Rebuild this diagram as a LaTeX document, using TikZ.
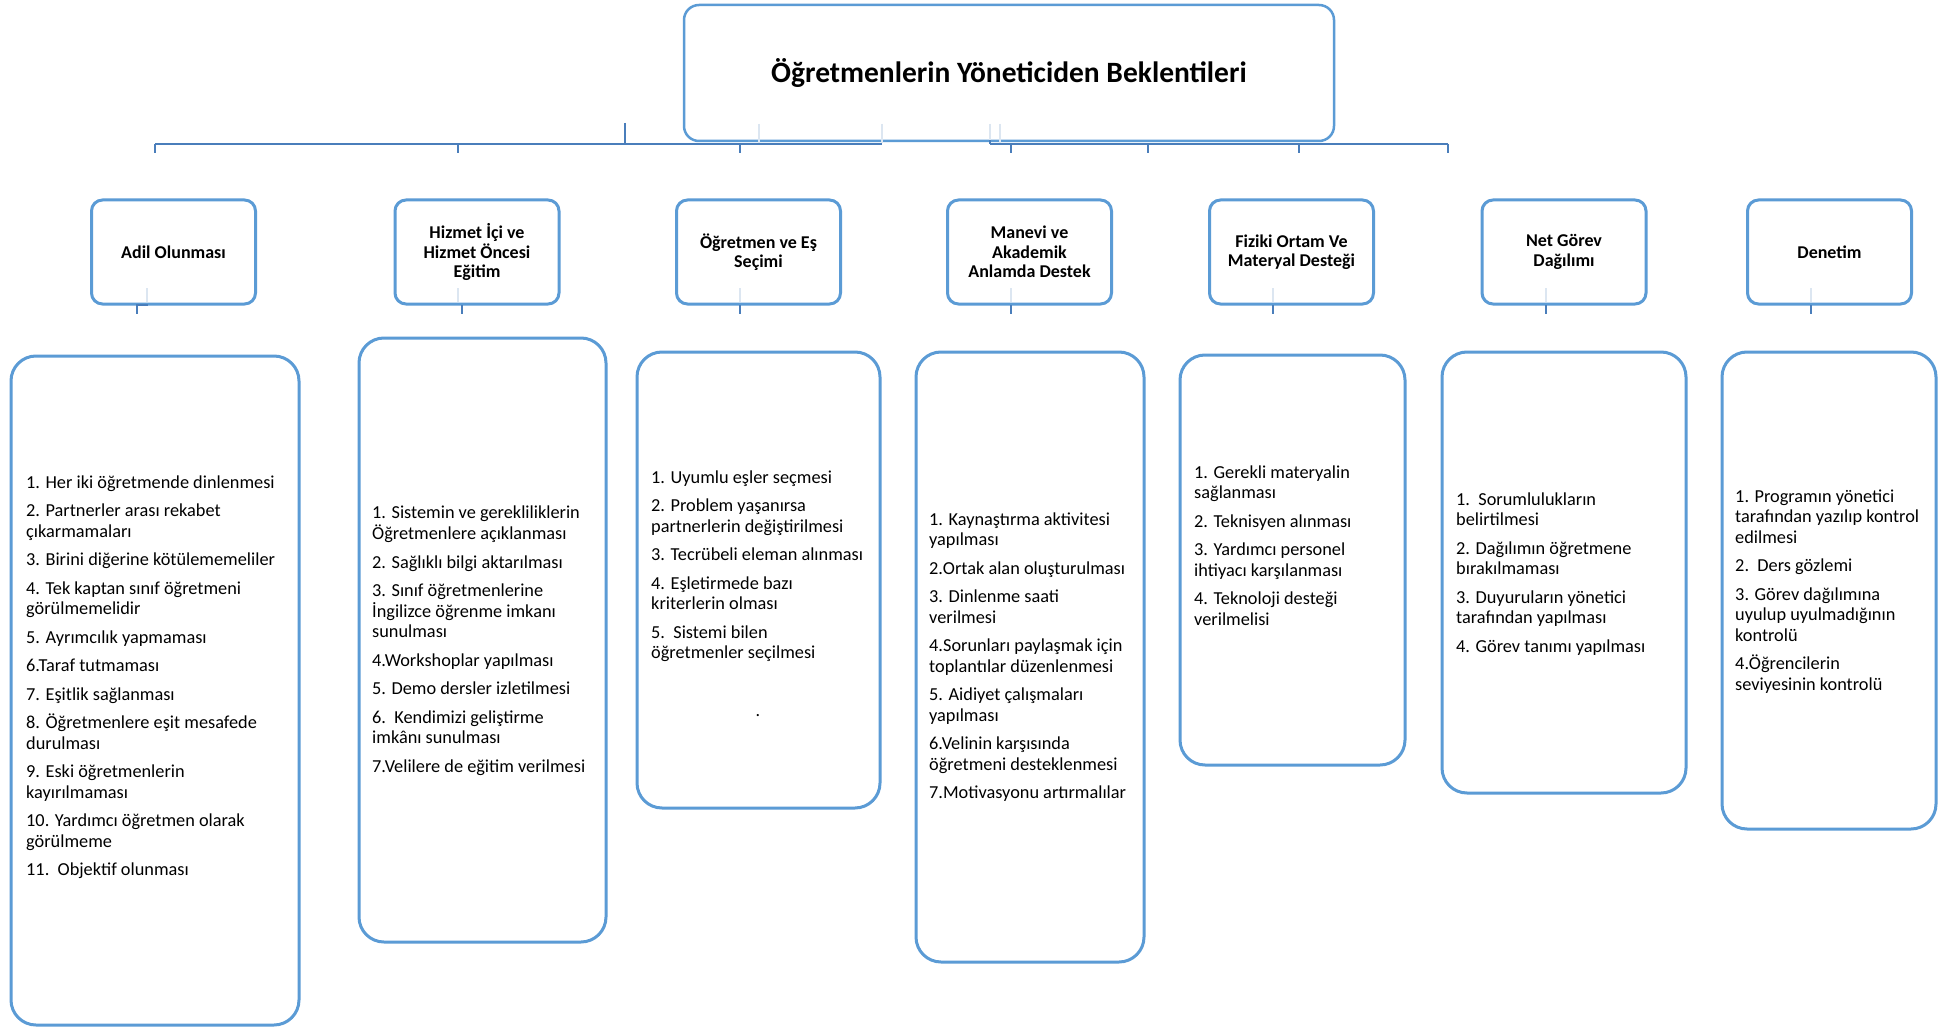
\documentclass[tikz,border=0pt]{standalone}
\usepackage{fontspec}
\setmainfont{Carlito}
\definecolor{boxblue}{HTML}{5B9BD5}
\definecolor{linkblue}{HTML}{4A7EBB}
\definecolor{faintblue}{HTML}{DCE6F1}
\tikzset{
  topbox/.style={draw=boxblue, line width=2.5pt, rounded corners=15pt,
    minimum width=650pt, minimum height=136pt, inner sep=0pt,
    font=\fontsize{29.5}{33}\selectfont\bfseries},
  headbox/.style={draw=boxblue, line width=3pt, rounded corners=11pt,
    minimum width=164pt, minimum height=104pt, inner sep=0pt, align=center,
    font=\fontsize{18}{19.5}\selectfont\bfseries},
  listbox/.style={draw=boxblue, line width=3pt, rounded corners=25pt, inner sep=0pt},
  listtext/.style={anchor=north west, align=left, inner sep=0pt,
    font=\fontsize{18.3}{20.5}\selectfont},
  link/.style={draw=linkblue, line width=2.8pt},
  tick/.style={draw=linkblue, line width=2pt},
  faint/.style={draw=faintblue, line width=2pt},
}
\begin{document}
\begin{tikzpicture}[x=1pt,y=-1pt]
\useasboundingbox (0,0) rectangle (1948,1027);
\fill[white] (0,0) rectangle (1948,1027);

% root
\node[topbox] (root) at (1009,73) {Öğretmenlerin Yöneticiden Beklentileri};

% faint guide lines under the root box
\coordinate (fa1) at (759,124); \coordinate (fa2) at (759,143);
\coordinate (fb1) at (882,124); \coordinate (fb2) at (882,143);
\coordinate (fc1) at (990,124); \coordinate (fc2) at (990,143);
\coordinate (fd1) at (1000,124); \coordinate (fd2) at (1000,143);
\draw[faint] (fa1) -- (fa2);
\draw[faint] (fb1) -- (fb2);
\draw[faint] (fc1) -- (fc2);
\draw[faint] (fd1) -- (fd2);

% left bracket
\coordinate (ls) at (625,123); \coordinate (lj) at (625,144);
\coordinate (la) at (155,144); \coordinate (lb) at (882,144);
\draw[link] (ls) -- (lj);
\draw[link] (la) -- (lb);
\foreach \x [count=\i] in {155,458,740}{
  \coordinate (lt\i a) at (\x,144); \coordinate (lt\i b) at (\x,153);
  \draw[tick] (lt\i a) -- (lt\i b);
}
% right bracket
\coordinate (rs) at (990,140); \coordinate (ra) at (990,144); \coordinate (rb) at (1448,144);
\draw[tick] (rs) -- (ra);
\draw[link] (ra) -- (rb);
\foreach \x [count=\i] in {1011,1148,1299,1448}{
  \coordinate (rt\i a) at (\x,144); \coordinate (rt\i b) at (\x,153);
  \draw[tick] (rt\i a) -- (rt\i b);
}

% category boxes
\node[headbox] (b1) at (173.5,252) {Adil Olunması};
\node[headbox] (b2) at (477,252) {Hizmet İçi ve\\Hizmet Öncesi\\Eğitim};
\node[headbox] (b3) at (758.5,252) {Öğretmen ve Eş\\Seçimi};
\node[headbox] (b4) at (1029.5,252) {Manevi ve\\Akademik\\Anlamda Destek};
\node[headbox] (b5) at (1291.5,252) {Fiziki Ortam Ve\\Materyal Desteği};
\node[headbox] (b6) at (1564,252) {Net Görev\\Dağılımı};
\node[headbox] (b7) at (1829.5,252) {Denetim};

% faint stubs inside the category boxes and ticks below them
\foreach \x [count=\i] in {147,458,740,1011,1273,1546,1811}{
  \coordinate (fs\i a) at (\x,288); \coordinate (fs\i b) at (\x,302);
  \draw[faint] (fs\i a) -- (fs\i b);
}
\foreach \x [count=\i] in {137,462,740,1011,1273,1546,1811}{
  \coordinate (bt\i a) at (\x,305); \coordinate (bt\i b) at (\x,314);
  \draw[tick] (bt\i a) -- (bt\i b);
}
\coordinate (st1) at (136,305); \coordinate (st2) at (148,305);
\draw[tick] (st1) -- (st2);

% detail boxes
\node[listbox, minimum width=288pt, minimum height=669pt] (l1) at (155,690.5) {};
\node[listbox, minimum width=247pt, minimum height=604pt] (l2) at (482.5,640) {};
\node[listbox, minimum width=243pt, minimum height=456pt] (l3) at (758.5,580) {};
\node[listbox, minimum width=228pt, minimum height=610pt] (l4) at (1030,657) {};
\node[listbox, minimum width=225pt, minimum height=410pt] (l5) at (1292.5,560) {};
\node[listbox, minimum width=244pt, minimum height=441pt] (l6) at (1564,572.5) {};
\node[listbox, minimum width=214pt, minimum height=477pt] (l7) at (1829,590.5) {};

% detail texts
\node[listtext] (t1) at (26,473.6) {\strut 1. Her iki öğretmende dinlenmesi\\[8pt]
2. Partnerler arası rekabet\\ çıkarmamaları\\[8pt]
3. Birini diğerine kötülememeliler\\[8pt]
4. Tek kaptan sınıf öğretmeni\\ görülmemelidir\\[8pt]
5. Ayrımcılık yapmaması\\[8pt]
6.Taraf tutmaması\\[8pt]
7. Eşitlik sağlanması\\[8pt]
8. Öğretmenlere eşit mesafede\\ durulması\\[8pt]
9. Eski öğretmenlerin\\ kayırılmaması\\[8pt]
10. Yardımcı öğretmen olarak\\ görülmeme\\[8pt]
11.\ \ Objektif olunması};

\node[listtext] (t2) at (372,503.6) {\strut 1. Sistemin ve gerekliliklerin\\ Öğretmenlere açıklanması\\[8pt]
2. Sağlıklı bilgi aktarılması\\[8pt]
3. Sınıf öğretmenlerine\\ İngilizce öğrenme imkanı\\ sunulması\\[8pt]
4.Workshoplar yapılması\\[8pt]
5. Demo dersler izletilmesi\\[8pt]
6.\ \ Kendimizi geliştirme\\ imkânı sunulması\\[8pt]
7.Velilere de eğitim verilmesi};

\node[listtext] (t3) at (651,468.6) {\strut 1. Uyumlu eşler seçmesi\\[8pt]
2. Problem yaşanırsa\\ partnerlerin değiştirilmesi\\[8pt]
3. Tecrübeli eleman alınması\\[8pt]
4. Eşletirmede bazı\\ kriterlerin olması\\[8pt]
5.\ \ Sistemi bilen\\ öğretmenler seçilmesi};
\node[anchor=base, inner sep=0pt, font=\fontsize{18}{20.5}\selectfont] (t3dot) at (758,716) {.};

\node[listtext] (t4) at (929,510.6) {\strut 1. Kaynaştırma aktivitesi\\ yapılması\\[8pt]
2.Ortak alan oluşturulması\\[8pt]
3. Dinlenme saati\\ verilmesi\\[8pt]
4.Sorunları paylaşmak için\\ toplantılar düzenlenmesi\\[8pt]
5. Aidiyet çalışmaları\\ yapılması\\[8pt]
6.Velinin karşısında\\ öğretmeni desteklenmesi\\[8pt]
7.Motivasyonu artırmalılar};

\node[listtext] (t5) at (1194,463.6) {\strut 1. Gerekli materyalin\\ sağlanması\\[8pt]
2. Teknisyen alınması\\[8pt]
3. Yardımcı personel\\ ihtiyacı karşılanması\\[8pt]
4. Teknoloji desteği\\ verilmelisi};

\node[listtext] (t6) at (1456,490.6) {\strut 1.\ \ Sorumlulukların\\ belirtilmesi\\[8pt]
2. Dağılımın öğretmene\\ bırakılmaması\\[8pt]
3. Duyuruların yönetici\\ tarafından yapılması\\[8pt]
4. Görev tanımı yapılması};

\node[listtext] (t7) at (1735,487.6) {\strut 1. Programın yönetici\\ tarafından yazılıp kontrol\\ edilmesi\\[8pt]
2.\ \ Ders gözlemi\\[8pt]
3. Görev dağılımına\\ uyulup uyulmadığının\\ kontrolü\\[8pt]
4.Öğrencilerin\\ seviyesinin kontrolü};
\end{tikzpicture}
\end{document}
